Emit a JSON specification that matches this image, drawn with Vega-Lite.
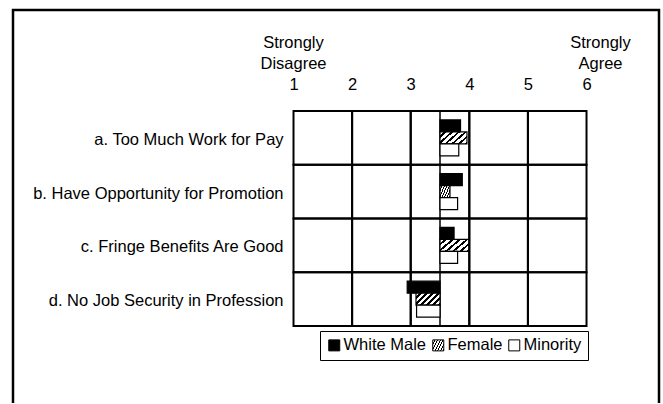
{
  "$schema": "https://vega.github.io/schema/vega-lite/v6.json",
  "width": 646,
  "height": 393,
  "autosize": {"type": "none"},
  "padding": {"left": 13, "top": 10, "right": 4, "bottom": 1},
  "background": "white",
  "config": {
    "view": {"stroke": "black", "strokeWidth": 2.5, "strokeDash": [1039, 646, 393]},
    "font": "Liberation Sans",
    "text": {"font": "Liberation Sans", "fontSize": 16.5, "color": "black"}
  },
  "datasets": {
    "rows": [
      {"item": "a. Too Much Work for Pay"},
      {"item": "b. Have Opportunity for Promotion"},
      {"item": "c. Fringe Benefits Are Good"},
      {"item": "d. No Job Security in Profession"}
    ],
    "cells": [
      {"item": "a. Too Much Work for Pay", "lo": 1, "hi": 2},
      {"item": "a. Too Much Work for Pay", "lo": 2, "hi": 3},
      {"item": "a. Too Much Work for Pay", "lo": 3, "hi": 4},
      {"item": "a. Too Much Work for Pay", "lo": 4, "hi": 5},
      {"item": "a. Too Much Work for Pay", "lo": 5, "hi": 6},
      {"item": "b. Have Opportunity for Promotion", "lo": 1, "hi": 2},
      {"item": "b. Have Opportunity for Promotion", "lo": 2, "hi": 3},
      {"item": "b. Have Opportunity for Promotion", "lo": 3, "hi": 4},
      {"item": "b. Have Opportunity for Promotion", "lo": 4, "hi": 5},
      {"item": "b. Have Opportunity for Promotion", "lo": 5, "hi": 6},
      {"item": "c. Fringe Benefits Are Good", "lo": 1, "hi": 2},
      {"item": "c. Fringe Benefits Are Good", "lo": 2, "hi": 3},
      {"item": "c. Fringe Benefits Are Good", "lo": 3, "hi": 4},
      {"item": "c. Fringe Benefits Are Good", "lo": 4, "hi": 5},
      {"item": "c. Fringe Benefits Are Good", "lo": 5, "hi": 6},
      {"item": "d. No Job Security in Profession", "lo": 1, "hi": 2},
      {"item": "d. No Job Security in Profession", "lo": 2, "hi": 3},
      {"item": "d. No Job Security in Profession", "lo": 3, "hi": 4},
      {"item": "d. No Job Security in Profession", "lo": 4, "hi": 5},
      {"item": "d. No Job Security in Profession", "lo": 5, "hi": 6}
    ],
    "ratings": [
      {"item": "a. Too Much Work for Pay", "group": "White Male", "value": 3.85},
      {"item": "a. Too Much Work for Pay", "group": "Female", "value": 3.96},
      {"item": "a. Too Much Work for Pay", "group": "Minority", "value": 3.82},
      {"item": "b. Have Opportunity for Promotion", "group": "White Male", "value": 3.88},
      {"item": "b. Have Opportunity for Promotion", "group": "Female", "value": 3.67},
      {"item": "b. Have Opportunity for Promotion", "group": "Minority", "value": 3.80},
      {"item": "c. Fringe Benefits Are Good", "group": "White Male", "value": 3.74},
      {"item": "c. Fringe Benefits Are Good", "group": "Female", "value": 3.99},
      {"item": "c. Fringe Benefits Are Good", "group": "Minority", "value": 3.80},
      {"item": "d. No Job Security in Profession", "group": "White Male", "value": 2.94},
      {"item": "d. No Job Security in Profession", "group": "Female", "value": 3.09},
      {"item": "d. No Job Security in Profession", "group": "Minority", "value": 3.10}
    ]
  },
  "layer": [
    {
      "data": {"name": "cells"},
      "mark": {"type": "rect", "fillOpacity": 0, "stroke": "black", "strokeWidth": 2},
      "encoding": {
        "x": {
          "field": "lo", "type": "quantitative", "title": null,
          "scale": {"domain": [-3.787, 7.237], "nice": false, "zero": false},
          "axis": {
            "orient": "top", "values": [1, 2, 3, 4, 5, 6], "format": "d", "title": null,
            "domain": false, "ticks": false, "tickSize": 0, "grid": false,
            "labelFont": "Liberation Sans", "labelFontSize": 16.5, "labelColor": "black",
            "labelPadding": 2, "offset": -81, "labelBaseline": "alphabetic",
            "labelFlush": false, "labelOverlap": false
          }
        },
        "x2": {"field": "hi"},
        "y": {
          "field": "item", "type": "nominal", "axis": null,
          "scale": {"domain": [" ", "a. Too Much Work for Pay", "b. Have Opportunity for Promotion", "c. Fringe Benefits Are Good", "d. No Job Security in Profession", "  "], "paddingInner": 0, "paddingOuter": 0.656, "align": 0.671}
        }
      }
    },
    {
      "data": {"name": "rows"},
      "mark": {"type": "rect", "fillOpacity": 0, "stroke": "black", "strokeWidth": 1},
      "encoding": {
        "x": {"datum": 3.5, "type": "quantitative"},
        "x2": {"datum": 3.5},
        "y": {"field": "item", "type": "nominal", "axis": null}
      }
    },
    {
      "data": {"name": "ratings"},
      "mark": {"type": "bar", "stroke": "black", "strokeWidth": 1.2},
      "encoding": {
        "x": {"field": "value", "type": "quantitative", "title": null},
        "x2": {"datum": 3.5},
        "y": {"field": "item", "type": "nominal", "axis": null},
        "yOffset": {
          "field": "group", "type": "nominal",
          "scale": {"domain": ["White Male", "Female", "Minority"], "paddingInner": 0, "paddingOuter": 0.74}
        },
        "fill": {
          "field": "group", "type": "nominal",
          "scale": {
            "domain": ["White Male", "Female", "Minority"],
            "range": [
              "black",
              {"expr": "{gradient: 'linear', x1: 0, y1: 0, x2: 1.2, y2: 0.6, stops: [{offset: 0, color: 'white'}, {offset: 0.1, color: 'white'}, {offset: 0.1, color: 'black'}, {offset: 0.1667, color: 'black'}, {offset: 0.1667, color: 'white'}, {offset: 0.2667, color: 'white'}, {offset: 0.2667, color: 'black'}, {offset: 0.3333, color: 'black'}, {offset: 0.3333, color: 'white'}, {offset: 0.4333, color: 'white'}, {offset: 0.4333, color: 'black'}, {offset: 0.5, color: 'black'}, {offset: 0.5, color: 'white'}, {offset: 0.6, color: 'white'}, {offset: 0.6, color: 'black'}, {offset: 0.6667, color: 'black'}, {offset: 0.6667, color: 'white'}, {offset: 0.7667, color: 'white'}, {offset: 0.7667, color: 'black'}, {offset: 0.8333, color: 'black'}, {offset: 0.8333, color: 'white'}, {offset: 0.9333, color: 'white'}, {offset: 0.9333, color: 'black'}, {offset: 1, color: 'black'}]}"},
              "white"
            ]
          },
          "legend": {
            "title": null, "orient": "none", "legendX": 307, "legendY": 321,
            "direction": "horizontal", "symbolType": "square", "symbolSize": 121,
            "symbolStrokeColor": "black", "symbolStrokeWidth": 1, "symbolOpacity": 1,
            "labelFont": "Liberation Sans", "labelFontSize": 16.5, "labelColor": "black",
            "labelOffset": 1, "columnPadding": 3, "padding": 6, "strokeColor": "black"
          }
        }
      }
    },
    {
      "data": {"name": "rows"},
      "mark": {"type": "text", "align": "right", "baseline": "middle", "fontSize": 16.5, "dy": 2},
      "encoding": {
        "x": {"datum": 0.83, "type": "quantitative"},
        "y": {"field": "item", "type": "nominal", "axis": null},
        "text": {"field": "item"}
      }
    },
    {
      "data": {"values": [{"words": ["Strongly", "Disagree"]}]},
      "mark": {"type": "text", "align": "center", "baseline": "alphabetic", "fontSize": 16.5, "lineHeight": 21, "dy": -90},
      "encoding": {
        "x": {"datum": 1, "type": "quantitative"},
        "y": {"datum": "a. Too Much Work for Pay", "type": "nominal", "axis": null},
        "text": {"field": "words"}
      }
    },
    {
      "data": {"values": [{"words": ["Strongly", "Agree"]}]},
      "mark": {"type": "text", "align": "center", "baseline": "alphabetic", "fontSize": 16.5, "lineHeight": 21, "dy": -90, "dx": 14},
      "encoding": {
        "x": {"datum": 6, "type": "quantitative"},
        "y": {"datum": "a. Too Much Work for Pay", "type": "nominal", "axis": null},
        "text": {"field": "words"}
      }
    }
  ]
}
